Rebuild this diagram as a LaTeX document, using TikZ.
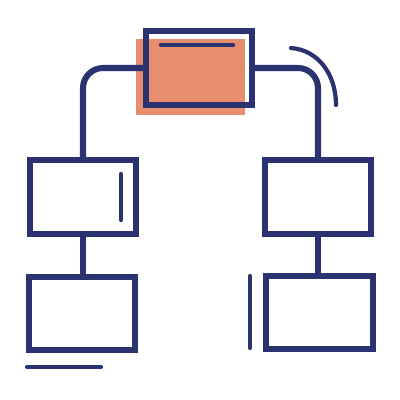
\documentclass[tikz,border=0pt]{standalone}
\usepackage{tikz}
\usepackage{xcolor}

\definecolor{navy}{HTML}{2B3270}
\definecolor{salmon}{HTML}{E88D6D}

\tikzset{
  box/.style={draw=navy, line width=4.3pt, minimum width=2.65cm, minimum height=1.85cm, inner sep=0pt},
  link/.style={draw=navy, line width=4.3pt, rounded corners=0.5cm},
  stroke/.style={draw=navy, line width=3pt, line cap=round}
}

\begin{document}
\begin{tikzpicture}[x=0.025cm, y=-0.025cm]
\useasboundingbox (0,0) rectangle (400,400);

\fill[salmon] (136,39) rectangle (245,115);

\node[box] (top) at (199,68) {};
\node[box] (lu) at (83,197) {};
\node[box, minimum height=1.83cm] (ll) at (82,313.5) {};
\node[box] (ru) at (318,197) {};
\node[box, minimum width=2.68cm, minimum height=1.83cm] (rl) at (319.5,312.5) {};

\draw[link] (top.west) -| (lu.north);
\draw[link] (top.east) -| (ru.north);
\draw[link] (lu.south) -- (lu.south |- ll.north);
\draw[link] (ru.south) -- (ru.south |- rl.north);

%\draw details
\draw[stroke] (161,45) -- (233,45);
\draw[stroke] (121,174) -- (121,220);
\draw[stroke] (250,276) -- (250,348);
\draw[stroke] (27,367) -- (101,367);
\draw[stroke] (291,48) .. controls (318,50) and (336,74) .. (336,105);

\end{tikzpicture}
\end{document}
